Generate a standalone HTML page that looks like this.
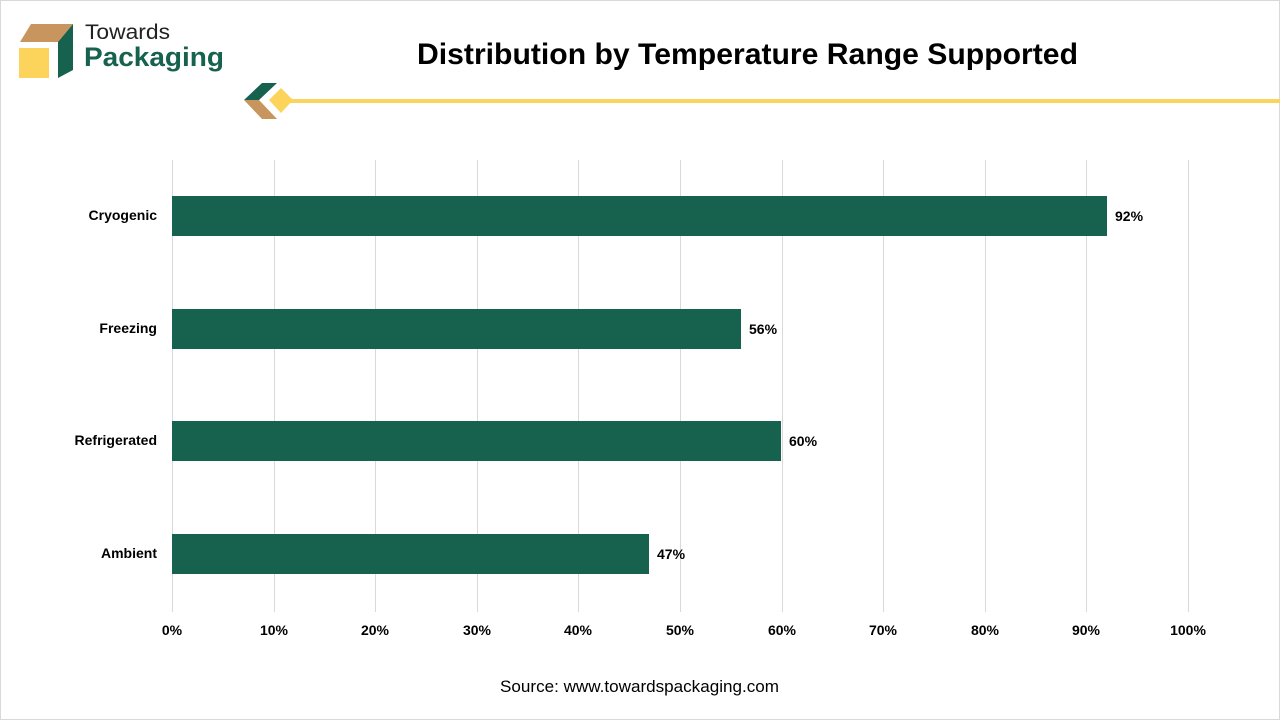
<!DOCTYPE html>
<html><head><meta charset="utf-8"><style>
html,body{margin:0;padding:0;background:#fff;}
body{width:1280px;height:720px;overflow:hidden;font-family:"Liberation Sans",Arial,sans-serif;}
</style></head><body>
<svg width="1280" height="720" xmlns="http://www.w3.org/2000/svg" font-family="Liberation Sans, Arial, sans-serif">
<rect x="0.5" y="0.5" width="1279" height="719" fill="#fff" stroke="#d9d9d9"/>
<polygon points="20,42 31,24 73,24 58,42" fill="#c8955f"/>
<rect x="19" y="48" width="30" height="30" fill="#fcd45c"/>
<polygon points="58,42 73,24 73,70 58,78" fill="#17614f"/>
<text x="85" y="39" font-size="21" fill="#222" textLength="85" lengthAdjust="spacingAndGlyphs">Towards</text>
<text x="84" y="66" font-size="27" font-weight="bold" fill="#17614f" textLength="140" lengthAdjust="spacingAndGlyphs">Packaging</text>
<text x="417" y="64" font-size="30" font-weight="bold" fill="#000" textLength="661" lengthAdjust="spacingAndGlyphs">Distribution by Temperature Range Supported</text>
<polygon points="244,100 262,83 277,83 259,100" fill="#17614f"/>
<polygon points="244,100 259,100 277,119 262,119" fill="#c8955f"/>
<polygon points="281,88 293,100 281,113 269,100" fill="#fcd45c"/>
<rect x="290" y="99" width="990" height="4" fill="#fcd45c"/>
<g stroke="#d9d9d9" stroke-width="1">
<line x1="172.5" y1="160" x2="172.5" y2="612"/>
<line x1="274.5" y1="160" x2="274.5" y2="612"/>
<line x1="375.5" y1="160" x2="375.5" y2="612"/>
<line x1="477.5" y1="160" x2="477.5" y2="612"/>
<line x1="578.5" y1="160" x2="578.5" y2="612"/>
<line x1="680.5" y1="160" x2="680.5" y2="612"/>
<line x1="782.5" y1="160" x2="782.5" y2="612"/>
<line x1="883.5" y1="160" x2="883.5" y2="612"/>
<line x1="985.5" y1="160" x2="985.5" y2="612"/>
<line x1="1086.5" y1="160" x2="1086.5" y2="612"/>
<line x1="1188.5" y1="160" x2="1188.5" y2="612"/>
</g>
<g fill="#17614f">
<rect x="172" y="196" width="935" height="40"/>
<rect x="172" y="309" width="569" height="40"/>
<rect x="172" y="421" width="609" height="40"/>
<rect x="172" y="534" width="477" height="40"/>
</g>
<g font-size="14" font-weight="bold" fill="#000">
<text x="1115" y="221">92%</text>
<text x="749" y="334">56%</text>
<text x="789" y="446">60%</text>
<text x="657" y="559">47%</text>
</g>
<g font-size="14" font-weight="bold" fill="#000" text-anchor="end">
<text x="157" y="220">Cryogenic</text>
<text x="157" y="333">Freezing</text>
<text x="157" y="445">Refrigerated</text>
<text x="157" y="558">Ambient</text>
</g>
<g font-size="14" font-weight="bold" fill="#000" text-anchor="middle">
<text x="172" y="635">0%</text>
<text x="274" y="635">10%</text>
<text x="375" y="635">20%</text>
<text x="477" y="635">30%</text>
<text x="578" y="635">40%</text>
<text x="680" y="635">50%</text>
<text x="782" y="635">60%</text>
<text x="883" y="635">70%</text>
<text x="985" y="635">80%</text>
<text x="1086" y="635">90%</text>
<text x="1188" y="635">100%</text>
</g>
<text x="500" y="692" font-size="16.5" fill="#000" textLength="279" lengthAdjust="spacingAndGlyphs">Source: www.towardspackaging.com</text>
</svg>
</body></html>
